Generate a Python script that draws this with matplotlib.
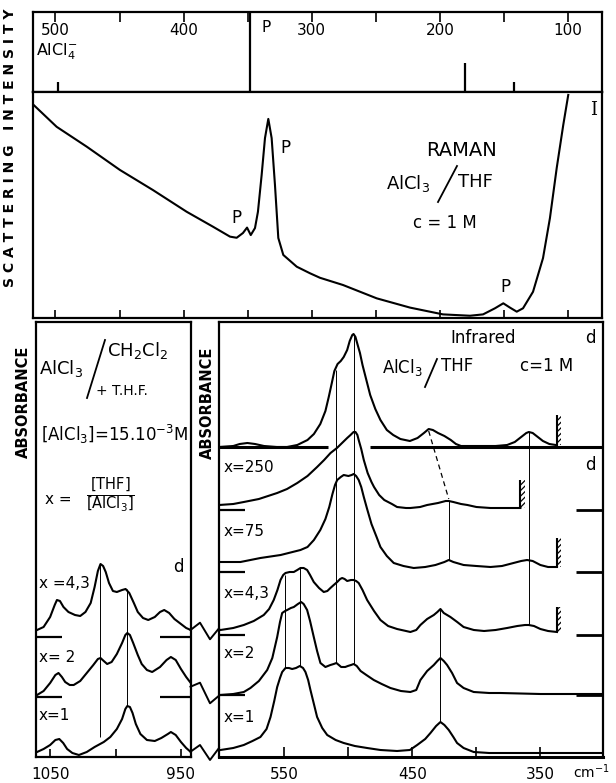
import matplotlib.pyplot as plt
from matplotlib.lines import Line2D
from matplotlib.patches import Rectangle

plt.rcParams['font.family'] = ['DejaVu Sans']
plt.rcParams['mathtext.default'] = 'regular'
plt.rcParams['hatch.linewidth'] = 0.9

W, H = 616, 783

# ---- Raman lines of AlCl4- (top strip), relative height
stick_wn = [498, 348, 180, 142]
stick_h = [0.13, 1.0, 0.36, 0.13]
strip_labels = [500, 400, 300, 200, 100]

# ---- Raman, AlCl3 / THF, c = 1 M
raman_wn = [517.5, 499.1, 475.6, 449.7, 423.9, 397.6, 377.1, 363.8, 358.6, 353.7, 350.5,
            347.6, 344.3, 342.0, 339.1, 336.5, 333.9, 331.3, 328.7, 326.1, 322.2, 311.7,
            301.4, 293.6, 275.6, 249.3, 223.3, 197.6, 176.5, 166.3, 157.0, 150.5, 145.3,
            140.0, 135.1, 127.3, 119.5, 114.1, 108.8, 103.7, 99.8]
raman_int = [94.5, 84.6, 75.8, 65.5, 56.6, 47.0, 40.4, 36.0, 35.5, 37.6, 40.0,
             36.7, 39.8, 47.0, 63.3, 79.6, 88.1, 79.6, 58.8, 35.4, 27.9, 22.7,
             19.8, 17.8, 14.6, 8.7, 4.6, 1.6, 1.0, 1.6, 4.3, 6.5, 4.6,
             2.8, 4.3, 11.6, 26.5, 44.2, 66.4, 85.4, 98.7]

# ---- IR, AlCl3 / CH2Cl2 + THF, 1060-943 cm-1 (offset absorbance)
l43_wn = [1060, 1055, 1050, 1046.5, 1044.8, 1042.5, 1039.8, 1036, 1031, 1027, 1023, 1019,
          1016, 1013.5, 1011.5, 1009.5, 1007.5, 1005, 1002, 999, 995, 992.3, 989.5, 986,
          983, 979, 975, 970, 966, 962.8, 959, 955, 950, 946, 942.5]
l43_a = [1.27, 1.30, 1.40, 1.52, 1.57, 1.56, 1.50, 1.45, 1.42, 1.41, 1.45, 1.54,
         1.70, 1.86, 1.93, 1.91, 1.85, 1.74, 1.66, 1.65, 1.67, 1.68, 1.64, 1.54,
         1.45, 1.39, 1.37, 1.40, 1.45, 1.47, 1.44, 1.38, 1.33, 1.29, 1.27]
l2_wn = [1060, 1055, 1050, 1046, 1043.6, 1041, 1038.5, 1035, 1032, 1027, 1022, 1017,
         1013.5, 1011.5, 1009, 1006.4, 1003, 999, 995, 992.5, 991, 989, 986.5, 983,
         980, 976, 972, 966, 961, 957.7, 954, 950, 946, 942.5]
l2_a = [0.62, 0.66, 0.74, 0.82, 0.84, 0.80, 0.75, 0.72, 0.72, 0.76, 0.84, 0.92,
        0.98, 0.99, 0.96, 0.93, 0.95, 1.03, 1.14, 1.22, 1.24, 1.22, 1.14, 1.02,
        0.93, 0.87, 0.85, 0.90, 0.97, 1.00, 0.97, 0.88, 0.80, 0.74]
l1_wn = [1060, 1055, 1050, 1046, 1043, 1040, 1037, 1033, 1028, 1022, 1016, 1009,
         1004, 999, 995, 992.5, 991, 989, 987, 984.5, 981, 976, 970, 965, 960,
         957.7, 954, 950, 946, 942.5]
l1_a = [0.05, 0.08, 0.12, 0.17, 0.18, 0.14, 0.08, 0.04, 0.02, 0.05, 0.10, 0.15,
        0.20, 0.28, 0.38, 0.48, 0.51, 0.50, 0.44, 0.33, 0.23, 0.17, 0.16, 0.19, 0.23,
        0.25, 0.22, 0.15, 0.09, 0.05]
left_labels = ['x =4,3', 'x= 2', 'x=1']
left_guide_wn = [1011.5, 991.5]
left_guide_top = [1.93, 1.68]
left_guide_bot = [0.20, 0.51]
left_base = [1.20, 0.60]

# ---- IR, AlCl3 / THF, 600-300 cm-1 (offset absorbance)
top_wn = [601.2, 590, 585, 579, 573, 566, 556, 548, 540, 532, 527, 522, 518, 515.4, 513,
          511, 508.5, 506, 503.7, 501, 499, 497, 496, 494.5, 493, 491, 489, 486, 483,
          479, 475, 470, 465, 459.4, 452, 446, 441, 437.3, 434, 430, 425, 420, 416,
          412, 400, 385, 376, 370, 365, 361, 359, 356, 352, 348, 343, 338, 337]
top_a = [3.10, 3.11, 3.13, 3.14, 3.13, 3.11, 3.10, 3.10, 3.12, 3.17, 3.23, 3.33, 3.46, 3.60, 3.74,
         3.86, 3.93, 3.96, 4.00, 4.07, 4.16, 4.22, 4.23, 4.20, 4.13, 4.04, 3.92, 3.77, 3.62,
         3.48, 3.37, 3.27, 3.22, 3.18, 3.16, 3.19, 3.24, 3.28, 3.27, 3.24, 3.21, 3.17, 3.13,
         3.11, 3.11, 3.11, 3.12, 3.15, 3.20, 3.24, 3.25, 3.24, 3.20, 3.16, 3.13, 3.12, 3.12]
x250_wn = [601.2, 590, 581.8, 570, 555.7, 548, 540, 532, 524.5, 519, 514, 509, 505, 501,
           498.4, 496, 494.5, 493, 492, 490, 488, 485, 482, 480, 476, 472, 466, 462, 455,
           451.6, 444, 438.5, 430, 424, 421.6, 418, 412, 407, 400, 389, 365.6]
x250_a = [2.52, 2.53, 2.55, 2.58, 2.64, 2.68, 2.74, 2.81, 2.90, 2.97, 3.04, 3.09, 3.14, 3.19,
          3.22, 3.25, 3.25, 3.22, 3.17, 3.08, 2.97, 2.84, 2.75, 2.70, 2.62, 2.57, 2.53, 2.50, 2.49,
          2.49, 2.50, 2.52, 2.54, 2.56, 2.56, 2.55, 2.53, 2.52, 2.50, 2.49, 2.49]
x75_wn = [601.2, 584.4, 568.8, 553, 537.5, 532, 527, 522, 518, 515, 512.5, 510.5, 508.8, 506,
          503.7, 500, 497.5, 495.9, 494, 492, 490, 488, 485.4, 482, 478, 475, 470, 464.6,
          457, 449, 440, 432, 425, 421.6, 418, 410, 400, 389, 380, 371, 365, 360.4, 356,
          350, 344, 338.3, 337]
x75_a = [1.95, 1.95, 1.99, 2.02, 2.07, 2.10, 2.17, 2.27, 2.38, 2.50, 2.63, 2.72, 2.77, 2.80,
         2.82, 2.81, 2.82, 2.83, 2.81, 2.77, 2.70, 2.60, 2.48, 2.33, 2.20, 2.10, 2.01, 1.94,
         1.91, 1.89, 1.90, 1.92, 1.95, 1.97, 1.95, 1.92, 1.91, 1.90, 1.91, 1.94, 1.96, 1.97, 1.96,
         1.92, 1.90, 1.90, 1.90]
x43_wn = [600, 590, 581.8, 574, 566.2, 562, 558.4, 555.5, 553.1, 551, 549.2, 546, 542.7, 540,
          537.5, 535, 532.3, 530, 527.1, 523, 519.3, 516.5, 514.1, 511.5, 508.8, 506.5, 504.9,
          503, 501, 498, 495.9, 494, 492, 489, 485.4, 480, 475, 469, 462, 455, 451.6, 447,
          443.75, 438.5, 433.3, 430.5, 428.1, 425.5, 420.3, 415, 410, 402, 394, 385, 376, 368,
          362, 359.1, 355, 350, 344, 337]
x43_a = [1.27, 1.29, 1.32, 1.36, 1.42, 1.48, 1.57, 1.67, 1.77, 1.82, 1.84, 1.85, 1.85, 1.87,
         1.89, 1.89, 1.87, 1.82, 1.75, 1.69, 1.65, 1.66, 1.69, 1.72, 1.75, 1.78, 1.79,
         1.78, 1.76, 1.77, 1.77, 1.76, 1.74, 1.67, 1.57, 1.46, 1.37, 1.31, 1.28, 1.26, 1.25, 1.27,
         1.32, 1.38, 1.42, 1.45, 1.48, 1.44, 1.40, 1.35, 1.30, 1.27, 1.26, 1.27, 1.29, 1.31,
         1.32, 1.32, 1.31, 1.28, 1.26, 1.25]
x2_wn = [600, 590, 581.8, 576.6, 570, 563.5, 559.5, 555.7, 553.5, 551.8, 549.5, 547.9, 545,
         542.7, 539.5, 537, 535, 532.3, 530, 527.1, 524.5, 521.9, 518, 514.1, 511.5, 509.4,
         507.5, 505.7, 502.5, 500.5, 498, 495.9, 493.5, 490.5, 486, 480.2, 474, 467.2, 459,
         451.6, 447, 443.75, 438.5, 433.3, 430.5, 428.1, 425.5, 422.9, 419, 415.1, 410, 402.1,
         390, 381.25, 350, 301]
x2_a = [0.62, 0.63, 0.65, 0.69, 0.76, 0.87, 0.99, 1.20, 1.35, 1.44, 1.46, 1.47, 1.49,
        1.50, 1.53, 1.55, 1.53, 1.47, 1.36, 1.20, 1.06, 0.94, 0.90, 0.92, 0.93, 0.94,
        0.92, 0.90, 0.90, 0.91, 0.92, 0.93, 0.91, 0.86, 0.82, 0.77, 0.73, 0.69, 0.66,
        0.65, 0.67, 0.77, 0.86, 0.92, 0.96, 0.99, 0.96, 0.92, 0.84, 0.74, 0.69, 0.65,
        0.64, 0.64, 0.63, 0.63]
x1_wn = [600, 590, 581.8, 575, 568.8, 564, 560.9, 558, 555.7, 553.5, 551.8, 549.2, 546.5,
         544, 541, 538, 535.5, 533.6, 531.5, 529.7, 527, 524.5, 520.5, 516.6, 510, 503.7,
         495, 485.4, 475, 462, 452, 446.3, 440, 435.9, 431.5, 428.1, 425, 421.6, 418, 415.1,
         410, 402.1, 390, 381.25, 301]
x1_a = [0.07, 0.09, 0.12, 0.16, 0.20, 0.28, 0.40, 0.56, 0.70, 0.79, 0.85, 0.89, 0.89,
        0.88, 0.89, 0.91, 0.89, 0.85, 0.77, 0.67, 0.53, 0.40, 0.29, 0.22, 0.17, 0.14,
        0.11, 0.09, 0.07, 0.06, 0.07, 0.12, 0.18, 0.24, 0.31, 0.35, 0.32, 0.27, 0.20, 0.14,
        0.09, 0.05, 0.04, 0.04, 0.04]
right_labels = ['x=250', 'x=75', 'x=4,3', 'x=2', 'x=1']
guide_wn = [549.2, 537.5, 509.4, 495.9, 428.1, 421.6, 359.1]
guide_top = [1.82, 1.89, 3.87, 4.23, 1.48, 2.56, 3.25]
guide_bot = [0.89, 0.91, 0.94, 0.93, 0.35, 1.97, 1.32]
dash_wn = [437.3, 421.6]
dash_a = [3.26, 2.58]
right_base = [2.47, 1.85, 1.22, 0.62]
cut_wn = [337, 365.6, 337, 337]
cut_lo = [3.12, 2.49, 1.90, 1.25]
cut_hi = [3.42, 2.77, 2.19, 1.50]

fig = plt.figure(figsize=(W / 100, H / 100), dpi=100)


def box(x0, y0, x1, y1):
    return [x0 / W, 1 - y1 / H, (x1 - x0) / W, (y1 - y0) / H]


def ftext(x, y, s, **kw):
    kw.setdefault('fontsize', 11)
    kw.setdefault('ha', 'left')
    kw.setdefault('va', 'center')
    fig.text(x / W, 1 - y / H, s, **kw)


def fline(xs, ys, **kw):
    kw.setdefault('color', 'black')
    kw.setdefault('lw', 1.0)
    fig.add_artist(Line2D([x / W for x in xs], [1 - y / H for y in ys],
                          transform=fig.transFigure, **kw))


ax_s = fig.add_axes(box(32.5, 12, 602, 92))
ax_r = fig.add_axes(box(32.5, 92, 602, 318))
ax_l = fig.add_axes(box(36, 322, 190.5, 757))
ax_i = fig.add_axes(box(219, 322, 603, 757))

for ax in [ax_s, ax_r, ax_l, ax_i]:
    for sp in ax.spines.values():
        sp.set_linewidth(1.6)
    ax.set_yticks([])
ax_i.spines['bottom'].set_linewidth(2.2)

# ---- top strip
ax_s.set_xlim(517.95, 73.46)
ax_s.set_ylim(0, 1)
ax_s.vlines(stick_wn, 0, stick_h, color='black', lw=1.6)
ax_s.set_xticks(range(500, 99, -50))
ax_s.tick_params(axis='x', top=True, bottom=False, labelbottom=False, direction='in',
                 length=7, width=1.2)
for v in strip_labels:
    ax_s.text(v, 0.77, str(v), ha='center', va='center', fontsize=11)
ax_s.text(339, 0.8, 'P', ha='left', va='center', fontsize=11)
ftext(36, 52, r'AlCl$_4^{-}$', fontsize=11.5)

# ---- Raman
ax_r.set_xlim(517.95, 73.46)
ax_r.set_ylim(0, 100)
ax_r.plot(raman_wn, raman_int, color='black', lw=1.5)
ax_r.set_xticks(range(500, 99, -50))
ax_r.tick_params(axis='x', direction='in', length=6, width=1.2, labelbottom=False)
ftext(236, 218, 'P', ha='center', fontsize=12)
ftext(285, 148, 'P', ha='center', fontsize=12)
ftext(505, 287, 'P', ha='center', fontsize=12)
ftext(461, 150, 'RAMAN', ha='center', fontsize=14)
ftext(386, 183, r'AlCl$_3$', fontsize=13)
fline([438, 457], [202, 166], lw=1.3)
ftext(458, 182, 'THF', fontsize=13)
ftext(445, 223, 'c = 1 M', ha='center', fontsize=12)
ftext(594, 110, 'I', ha='center', fontsize=13, family='DejaVu Serif')
ftext(10, 148, 'S C A T T E R I N G   I N T E N S I T Y', rotation=90, ha='center',
      fontsize=10, fontweight='bold')

# ---- left IR panel
ax_l.set_xlim(1060.8, 942.7)
ax_l.set_ylim(0, 4.35)
for wn, a in [(l43_wn, l43_a), (l2_wn, l2_a), (l1_wn, l1_a)]:
    ax_l.plot(wn, a, color='black', lw=1.5)
ax_l.vlines(left_guide_wn, left_guide_bot, left_guide_top, color='black', lw=0.7)
for b in left_base:
    ax_l.hlines(b, 1060.8, 1041, color='black', lw=1.6)
    ax_l.hlines(b, 966, 942.7, color='black', lw=1.6)
ax_l.set_xticks([1050, 1000, 950])
ax_l.set_xticklabels(['1050', '', '950'])
ax_l.tick_params(axis='x', direction='in', length=6, width=1.2, labelsize=11, pad=7)
ftext(23, 402, 'ABSORBANCE', rotation=90, ha='center', fontsize=10.5, fontweight='bold')
ftext(39, 368, r'AlCl$_3$', fontsize=13)
fline([87, 105], [398, 340], lw=1.3)
ftext(107, 350, r'CH$_2$Cl$_2$', fontsize=13)
ftext(96, 391, '+ T.H.F.', fontsize=10)
ftext(41, 434, r'$\left[AlCl_3\right]$=15.10$^{-3}$M', fontsize=12)
ftext(45, 500, 'x =', fontsize=11)
ftext(110, 495, r'$\frac{[THF]}{[AlCl_3]}$', ha='center', fontsize=15)
ftext(178, 567, 'd', ha='center', fontsize=12)
for lab, y in zip(left_labels, [583, 657, 716]):
    ftext(39, y, lab, fontsize=11)

# ---- right IR panel
ax_i.set_xlim(601.17, 301.05)
ax_i.set_ylim(0, 4.35)
for wn, a in [(top_wn, top_a), (x250_wn, x250_a), (x75_wn, x75_a), (x43_wn, x43_a),
              (x2_wn, x2_a), (x1_wn, x1_a)]:
    ax_i.plot(wn, a, color='black', lw=1.5)
ax_i.hlines(3.10, 601.17, 515.6, color='black', lw=2.2)
ax_i.hlines(3.10, 483.2, 301.05, color='black', lw=2.2)
ax_i.vlines(guide_wn, guide_bot, guide_top, color='black', lw=0.7)
ax_i.plot(dash_wn, dash_a, color='black', lw=0.9, dashes=(4, 3))
for b in right_base:
    ax_i.hlines(b, 601.17, 581, color='black', lw=1.6)
    ax_i.hlines(b, 322.5, 301.05, color='black', lw=2.0)
for v, lo, hi in zip(cut_wn, cut_lo, cut_hi):
    ax_i.vlines(v, lo, hi, color='black', lw=1.5)
    ax_i.add_patch(Rectangle((v - 3.5, lo), 3.5, hi - lo, fill=False, lw=0,
                             hatch='//////', edgecolor='black'))
ax_i.set_xticks([550, 500, 450, 400, 350])
ax_i.set_xticklabels(['550', '', '450', '', '350'])
ax_i.tick_params(axis='x', direction='in', length=7, width=1.2, labelsize=11, pad=7)
ftext(207, 403, 'ABSORBANCE', rotation=90, ha='center', fontsize=10.5, fontweight='bold')
ftext(483, 338, 'Infrared', ha='center', fontsize=12)
ftext(382, 367, r'AlCl$_3$', fontsize=12)
fline([425, 437], [387, 359], lw=1.3)
ftext(441, 366, 'THF', fontsize=12)
ftext(520, 366, 'c=1 M', fontsize=12)
ftext(590, 338, 'd', ha='center', fontsize=12)
ftext(590, 465, 'd', ha='center', fontsize=12)
for lab, y in zip(right_labels, [467, 532, 593, 653, 717]):
    ftext(224, y, lab, fontsize=11)
ftext(573, 772, r'cm$^{-1}$', fontsize=10)

# ---- break marks between the two IR panels
fline([190.5, 200, 210, 219], [630, 622.7, 639.3, 628.3], lw=1.4)
fline([190.5, 200, 210, 219], [686.7, 682.7, 703.3, 695.7], lw=1.4)
fline([190.5, 200, 210, 219], [751.7, 745, 760, 748], lw=1.4)

fig.savefig('out.png', dpi=100)
